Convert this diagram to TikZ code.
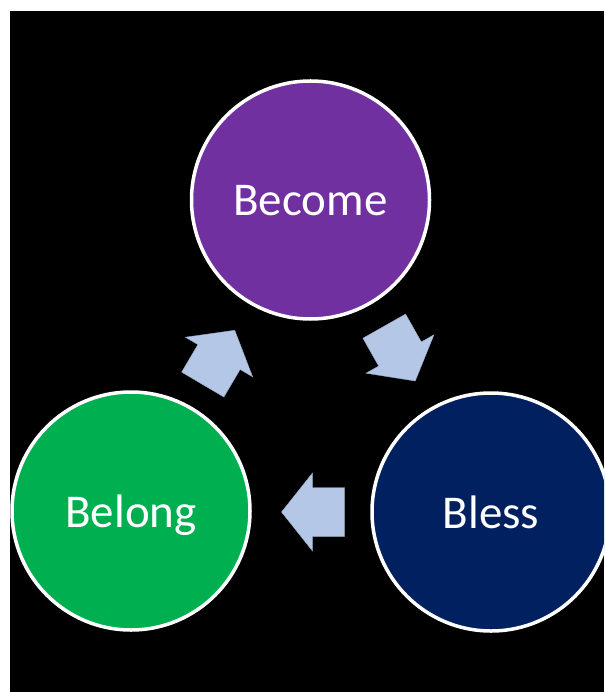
\documentclass[tikz,border=0pt]{standalone}
\usepackage{fontspec}
\setmainfont{Carlito}
\definecolor{cpurple}{HTML}{7030A0}
\definecolor{cnavy}{HTML}{002060}
\definecolor{cgreen}{HTML}{00B050}
\definecolor{carrow}{HTML}{B4C7E7}
\begin{document}
\begin{tikzpicture}[x=1pt,y=-1pt,
  bubble/.style={circle,draw=white,line width=3.5pt,minimum size=238pt,inner sep=0pt,
    text=white,text depth=0pt,font=\fontsize{47}{56}\selectfont},
  blockarrow/.style={fill=carrow,draw=carrow!85!black,line width=0.4pt}]
\useasboundingbox (0,0) rectangle (604,692);
\fill[white] (0,0) rectangle (604,692);
\fill[black] (10,11) rectangle (604,692);
\begin{scope}
\clip (10,11) rectangle (604,692);
\node[bubble,fill=cpurple] (become) at (310.5,200) {Become};
\node[bubble,fill=cnavy] (bless) at (491,512) {Bless};
\node[bubble,fill=cgreen] (belong) at (131,511) {Belong};
\end{scope}
\def\blockpath{(-32,-24.5) -- (0,-24.5) -- (0,-39) -- (31,0) -- (0,39) -- (0,24.5) -- (-32,24.5) -- cycle}
\draw[blockarrow,shift={(312.5,512)},rotate=180] \blockpath;
\draw[blockarrow,shift={(219,357)},rotate=59.5] \blockpath;
\draw[blockarrow,shift={(400,354)},rotate=-60.5] \blockpath;
\end{tikzpicture}
\end{document}
